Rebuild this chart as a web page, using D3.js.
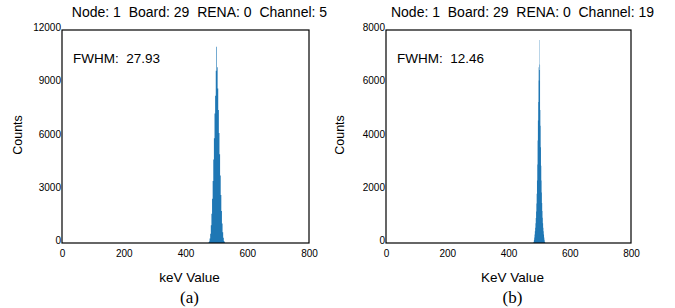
<!DOCTYPE html>
<html>
<head>
  <meta charset="utf8">
  <style>
  * { margin: 0; padding: 0; }
  body { background: #fff; }
  svg { font-family: "Liberation Sans", Arial, sans-serif; }
  </style>
</head>
<body>
  <script src="https://cdn.jsdelivr.net/npm/d3@7/dist/d3.min.js"></script>
  <script>
  // ---- data ----
  var xTicks = [0, 200, 400, 600, 800];
  var yTicksA = [0, 3000, 6000, 9000, 12000];
  var yTicksB = [0, 2000, 4000, 6000, 8000];

  // panel (a): 2 keV bins starting at 476 keV
  var binStartA = 474, binWidthA = 2;
  var countsA = [30, 90, 250, 520, 1000, 1650, 2500, 3500, 4700, 5900, 7300, 8300, 9700,
    11050, 9900, 8700, 7500, 6200, 5000, 3800, 2700, 1800, 1100, 600, 300, 110, 40];

  // panel (b): 1 keV bins starting at 481 keV
  var binStartB = 481, binWidthB = 1;
  var countsB = [15, 50, 120, 210, 320, 440, 570, 740, 940, 1180, 1480, 1850, 2350,
    2950, 3850, 4600, 5300, 6600, 6100, 7620, 6500, 6700, 5000, 4400, 3600, 2900,
    2350, 1900, 1500, 1200, 950, 740, 570, 440, 320, 210, 120, 50, 15];

  var titles = ["Node: 1  Board: 29  RENA: 0  Channel: 5", "Node: 1  Board: 29  RENA: 0  Channel: 19"];
  var fwhm = ["FWHM:  27.93", "FWHM:  12.46"];
  var xLabels = ["keV Value", "KeV Value"];
  var captions = ["(a)", "(b)"];

  var w = 675, h = 308;
  var svg = d3.select("body").append("svg")
    .attr("width", w)
    .attr("height", h);

  var panels = [
    { left: 62, right: 309, yMax: 12000, yTicks: yTicksA, start: binStartA, bw: binWidthA, counts: countsA, countsX: 18 },
    { left: 386, right: 631, yMax: 8000, yTicks: yTicksB, start: binStartB, bw: binWidthB, counts: countsB, countsX: 340 }
  ];
  var plotTop = 30, plotBottom = 243;

  panels.forEach(function(p, i) {
    var x = d3.scaleLinear().domain([0, 800]).range([p.left, p.right]);
    var y = d3.scaleLinear().domain([0, p.yMax]).range([plotBottom, plotTop]);
    var g = svg.append("g");

    // histogram as a step area
    var pts = p.counts.map(function(c, k) { return [p.start + k * p.bw, c]; });
    pts.push([p.start + p.counts.length * p.bw, p.counts[p.counts.length - 1]]);
    var area = d3.area()
      .curve(d3.curveStepAfter)
      .x(function(d) { return x(d[0]); })
      .y0(y(0))
      .y1(function(d) { return y(d[1]); });
    g.append("path")
      .datum(pts)
      .attr("d", area)
      .attr("fill", "#1f77b4");

    // frame
    g.append("rect")
      .attr("x", p.left)
      .attr("y", plotTop)
      .attr("width", p.right - p.left)
      .attr("height", plotBottom - plotTop)
      .attr("fill", "none")
      .attr("stroke", "#000")
      .attr("stroke-width", 1.2);

    // axes
    var xAxis = d3.axisBottom(x).tickValues(xTicks).tickSize(0).tickPadding(7)
      .tickFormat(d3.format("d"));
    var ax = g.append("g")
      .attr("transform", "translate(0," + plotBottom + ")")
      .call(xAxis);
    ax.select(".domain").remove();
    ax.selectAll("text").attr("font-size", 10).attr("fill", "#000").attr("font-family", null);

    var yAxis = d3.axisLeft(y).tickValues(p.yTicks).tickSize(0).tickPadding(1)
      .tickFormat(d3.format("d"));
    var ay = g.append("g")
      .attr("transform", "translate(" + p.left + ",0)")
      .call(yAxis);
    ay.select(".domain").remove();
    ay.selectAll("text").attr("font-size", 10).attr("fill", "#000").attr("font-family", null)
      .attr("dy", "0.05em");

    // texts
    svg.append("text")
      .attr("x", (p.left + p.right) / 2 + 14)
      .attr("y", 17)
      .attr("text-anchor", "middle")
      .attr("font-size", 14)
      .style("white-space", "pre")
      .text(titles[i]);

    svg.append("text")
      .attr("x", p.left + 11)
      .attr("y", 63)
      .attr("font-size", 13.5)
      .style("white-space", "pre")
      .text(fwhm[i]);

    svg.append("text")
      .attr("x", (p.left + p.right) / 2 + 4)
      .attr("y", 282)
      .attr("text-anchor", "middle")
      .attr("font-size", 13.5)
      .text(xLabels[i]);

    svg.append("text")
      .attr("x", (p.left + p.right) / 2 + 4)
      .attr("y", 303)
      .attr("text-anchor", "middle")
      .attr("font-size", 17)
      .attr("font-family", "Liberation Serif, Times New Roman, serif")
      .text(captions[i]);

    svg.append("text")
      .attr("transform", "translate(" + (p.countsX + 4) + "," + 135 + ") rotate(-90)")
      .attr("text-anchor", "middle")
      .attr("font-size", 12.5)
      .text("Counts");
  });
  </script>
</body>
</html>
